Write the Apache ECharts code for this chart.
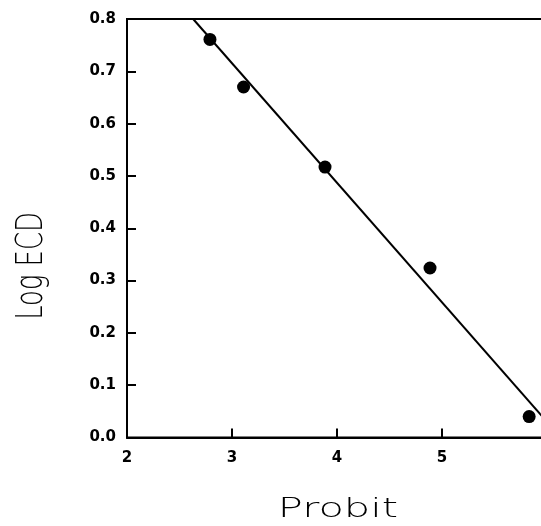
<!DOCTYPE html>
<html><head><meta charset="utf-8">
<script src="https://cdn.jsdelivr.net/npm/echarts@6/dist/echarts.min.js"></script>
<style>html,body{margin:0;padding:0;background:#fff}#c{width:541px;height:526px}</style>
</head><body><div id="c"></div>
<script>
var probit = [2.79, 3.11, 3.886, 4.886, 5.83];
var logECD = [0.761, 0.670, 0.517, 0.324, 0.040];
var fitX = [2.63, 6.0];
var fitY = [0.80, 0.030];
var xTicks = [2, 3, 4, 5, 6];
var yTicks = [0.0, 0.1, 0.2, 0.3, 0.4, 0.5, 0.6, 0.7, 0.8];

var chart = echarts.init(document.getElementById('c'), null, {renderer: 'canvas'});
var lbl = {color: '#000', fontFamily: 'DejaVu Sans', fontWeight: 'bold', fontSize: 15};
chart.setOption({
  animation: false,
  backgroundColor: '#fff',
  grid: {left: 127, width: 420, top: 19, height: 418.5, show: true, borderColor: '#000', borderWidth: 2,
         backgroundColor: 'transparent', containLabel: false, outerBoundsMode: 'none'},
  xAxis: {
    type: 'value', min: xTicks[0], max: xTicks[xTicks.length - 1], interval: 1,
    axisLine: {lineStyle: {color: '#000', width: 2}},
    axisTick: {inside: true, length: 9, lineStyle: {color: '#000', width: 2}},
    splitLine: {show: false},
    axisLabel: Object.assign({margin: 13, showMaxLabel: false}, lbl)
  },
  yAxis: {
    type: 'value', min: yTicks[0], max: yTicks[yTicks.length - 1], interval: 0.1,
    axisLine: {show: true, lineStyle: {color: '#000', width: 2}},
    axisTick: {show: true, inside: true, length: 9, lineStyle: {color: '#000', width: 2}},
    splitLine: {show: false},
    axisLabel: Object.assign({margin: 11, formatter: function (v) { return v.toFixed(1); }}, lbl)
  },
  graphic: [
    {type: 'text', style: {text: 'Probit', fontFamily: 'DejaVu Sans', fontWeight: 200, fontSize: 26, fill: '#000', textAlign: 'center', textVerticalAlign: 'middle'},
     position: [338, 510], scaleX: 1.6, scaleY: 1},
    {type: 'text', style: {text: 'Log ECD', fontFamily: 'DejaVu Sans', fontWeight: 200, fontSize: 38, fill: '#000', textAlign: 'center', textVerticalAlign: 'middle'},
     position: [32, 266], rotation: Math.PI / 2, scaleX: 0.68, scaleY: 1}
  ],
  series: [
    {type: 'line', data: fitX.map(function (x, i) { return [x, fitY[i]]; }), symbol: 'none',
     lineStyle: {color: '#000', width: 2}, clip: true},
    {type: 'scatter', data: probit.map(function (x, i) { return [x, logECD[i]]; }), symbol: 'circle', symbolSize: 13,
     itemStyle: {color: '#000', opacity: 1}}
  ]
});
</script></body></html>
